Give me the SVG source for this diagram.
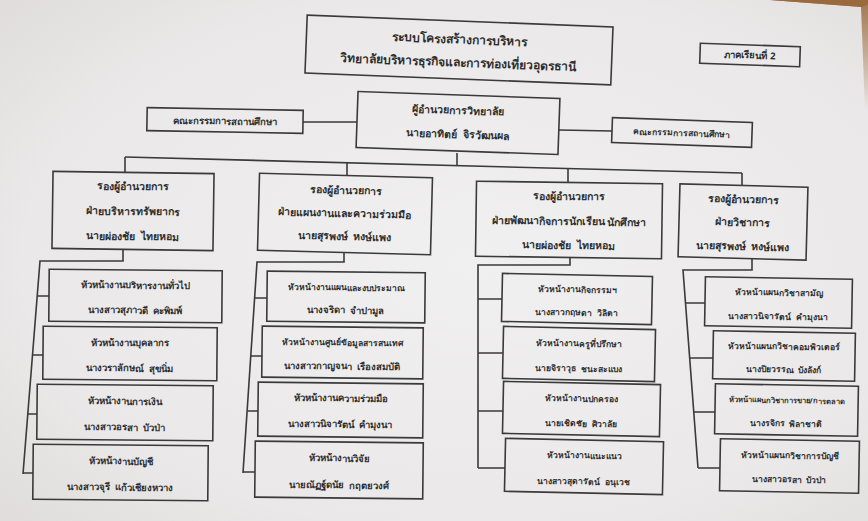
<svg xmlns="http://www.w3.org/2000/svg" width="868" height="521" viewBox="0 0 868 521">
<defs>
<radialGradient id="paper" cx="0.55" cy="0.5" r="0.75">
<stop offset="0" stop-color="#f1f0f1"/>
<stop offset="0.7" stop-color="#eae8e8"/>
<stop offset="1" stop-color="#dfdcdb"/>
</radialGradient>
<linearGradient id="edge" x1="0" y1="0" x2="0" y2="1">
<stop offset="0" stop-color="#9a6a3e" stop-opacity="0.9"/>
<stop offset="1" stop-color="#9a6a3e" stop-opacity="0"/>
</linearGradient>
<style>
.box{fill:none;stroke:#3a3a3a;stroke-width:1.6}
.ln{fill:none;stroke:#3a3a3a;stroke-width:1.6}
text{font-family:'Noto Sans','DejaVu Sans',sans-serif;font-weight:bold;fill:#2e2e2e;text-anchor:middle;dominant-baseline:central;white-space:pre}
.t12{font-size:12px}
.t11{font-size:10.5px}
.t10{font-size:9.5px}
.t9{font-size:8.5px}
</style>
</defs>
<rect width="868" height="521" fill="url(#paper)"/>
<polygon points="770,0 868,0 868,110 865,110 861,7" fill="url(#edge)"/>
<polygon points="770,0 868,0 868,4 862,7" fill="#9a6a3e"/>

<g id="connectors">
<path class="ln" d="M303,122 H357"/>
<path class="ln" d="M559,130 L612,131"/>
<path class="ln" d="M457,153 V166"/>
<path class="ln" d="M125,157 L742,173"/>
<path class="ln" d="M125,157 V172"/>
<path class="ln" d="M347,163 V175"/>
<path class="ln" d="M568,169 V182"/>
<path class="ln" d="M742,173 V186"/>
<path class="ln" d="M123,250 V261 H40 L23,474"/>
<path class="ln" d="M38,296 H49 M32,355 H43 M27,414 H37 M23,473 H33"/>
<path class="ln" d="M344,253 V262 H257 L243,473"/>
<path class="ln" d="M255,298 H267 M251,356 H262 M248,411 H258 M243,472 H255"/>
<path class="ln" d="M570,258 V265 H478 V468"/>
<path class="ln" d="M478,299 H502 M478,353 H503 M478,411 H503 M478,468 H505"/>
<path class="ln" d="M752,259 V270 H683 L698,468"/>
<path class="ln" d="M685.5,303 H705 M689.7,358 H713 M693.8,412 H715 M698,468 H720"/>
</g>

<g id="n-title" transform="rotate(2.2 459 50)">
<rect class="box" x="306" y="21" width="306" height="58"/>
<text class="t12" x="459" y="39">ระบบโครงสร้างการบริหาร</text>
<text class="t12" x="459" y="62">วิทยาลัยบริหารธุรกิจและการท่องเที่ยวอุดรธานี</text>
</g>
<g id="n-semester" transform="rotate(2 750 55)">
<rect class="box" x="700" y="45" width="100" height="20"/>
<text class="t10" x="750" y="55">ภาคเรียนที่ 2</text>
</g>
<g id="n-director" transform="rotate(2 458 123)">
<rect class="box" x="357" y="95" width="202" height="56"/>
<text class="t11" x="458" y="110">ผู้อำนวยการวิทยาลัย</text>
<text class="t11" x="458" y="134">นายอาทิตย์  จิรวัฒนผล</text>
</g>
<g id="n-board-left" transform="rotate(1 225 120.5)">
<rect class="box" x="147" y="109" width="156" height="23"/>
<text class="t10" x="225" y="121">คณะกรรมการสถานศึกษา</text>
</g>
<g id="n-board-right" transform="rotate(2 682 132.5)">
<rect class="box" x="612" y="120" width="140" height="25"/>
<text class="t9" x="682" y="132.5">คณะกรรมการสถานศึกษา</text>
</g>

<g id="n-dep1" transform="rotate(0.8 133 211)">
<rect class="box" x="52.5" y="172.5" width="161" height="77"/>
<text class="t11" x="133" y="186">รองผู้อำนวยการ</text>
<text class="t11" x="133" y="211">ฝ่ายบริหารทรัพยากร</text>
<text class="t11" x="133" y="236">นายผ่องชัย  ไทยหอม</text>
</g>
<g id="n-dep2" transform="rotate(1.5 345 214)">
<rect class="box" x="258.5" y="175.5" width="173" height="77"/>
<text class="t11" x="345" y="190">รองผู้อำนวยการ</text>
<text class="t11" x="345" y="213">ฝ่ายแผนงานและความร่วมมือ</text>
<text class="t11" x="345" y="236">นายสุรพงษ์  หงษ์แพง</text>
</g>
<g id="n-dep3" transform="rotate(0.8 569 220)">
<rect class="box" x="476" y="182.5" width="186" height="75"/>
<text class="t11" x="569" y="196">รองผู้อำนวยการ</text>
<text class="t11" x="569" y="221">ฝ่ายพัฒนากิจการนักเรียน นักศึกษา</text>
<text class="t11" x="569" y="245">นายผ่องชัย  ไทยหอม</text>
</g>
<g id="n-dep4" transform="rotate(1.5 743 222)">
<rect class="box" x="679" y="185.5" width="128" height="73"/>
<text class="t11" x="743" y="199">รองผู้อำนวยการ</text>
<text class="t11" x="743" y="222">ฝ่ายวิชาการ</text>
<text class="t11" x="743" y="246">นายสุรพงษ์  หงษ์แพง</text>
</g>

<g id="n-c1-1" transform="rotate(0.5 135.5 296)">
<rect class="box" x="49" y="270" width="173" height="52"/>
<text class="t10" x="135.5" y="285">หัวหน้างานบริหารงานทั่วไป</text>
<text class="t10" x="135.5" y="310">นางสาวสุภาวดี  คะพิมพ์</text>
</g>
<g id="n-c1-2" transform="rotate(0.5 130 353.5)">
<rect class="box" x="43" y="327" width="174" height="53"/>
<text class="t10" x="130" y="342.5">หัวหน้างานบุคลากร</text>
<text class="t10" x="130" y="368">นางวราลักษณ์  สุขนิ่ม</text>
</g>
<g id="n-c1-3" transform="rotate(0.5 125 412.5)">
<rect class="box" x="37" y="385" width="176" height="55"/>
<text class="t10" x="125" y="401">หัวหน้างานการเงิน</text>
<text class="t10" x="125" y="427">นางสาวอรสา  บัวป่า</text>
</g>
<g id="n-c1-4" transform="rotate(0.5 120.5 472.5)">
<rect class="box" x="33" y="445" width="175" height="55"/>
<text class="t10" x="120.5" y="461">หัวหน้างานบัญชี</text>
<text class="t10" x="120.5" y="487">นางสาวจุรี  แก้วเชียงหวาง</text>
</g>

<g id="n-c2-1" transform="rotate(0.6 346 297)">
<rect class="box" x="267" y="272" width="158" height="50"/>
<text class="t9" x="346" y="287">หัวหน้างานแผนและงบประมาณ</text>
<text class="t10" x="346" y="310">นางจริดา  จำปามูล</text>
</g>
<g id="n-c2-2" transform="rotate(0.6 342.5 352.5)">
<rect class="box" x="262" y="327" width="161" height="51"/>
<text class="t9" x="342.5" y="342">หัวหน้างานศูนย์ข้อมูลสารสนเทศ</text>
<text class="t10" x="342.5" y="366">นางสาวกาญจนา  เรืองสมบัติ</text>
</g>
<g id="n-c2-3" transform="rotate(0.6 340.5 410)">
<rect class="box" x="258" y="383" width="165" height="54"/>
<text class="t10" x="340.5" y="398">หัวหน้างานความร่วมมือ</text>
<text class="t10" x="340.5" y="424">นางสาวนิจารัตน์  คำมุงนา</text>
</g>
<g id="n-c2-4" transform="rotate(0.6 339 470)">
<rect class="box" x="255" y="442" width="168" height="56"/>
<text class="t10" x="339" y="458">หัวหน้างานวิจัย</text>
<text class="t10" x="339" y="485">นายณัฏฐ์ดนัย  กฤตยวงศ์</text>
</g>

<g id="n-c3-1" transform="rotate(1.2 577 299)">
<rect class="box" x="502" y="275" width="150" height="48"/>
<text class="t9" x="577" y="289">หัวหน้างานกิจกรรมฯ</text>
<text class="t9" x="577" y="312">นางสาวกฤษดา  วิลิตา</text>
</g>
<g id="n-c3-2" transform="rotate(1.2 579 354)">
<rect class="box" x="503" y="328" width="152" height="52"/>
<text class="t9" x="579" y="343">หัวหน้างานครูที่ปรึกษา</text>
<text class="t9" x="579" y="368">นายจิราวุธ  ชนะสะแบง</text>
</g>
<g id="n-c3-3" transform="rotate(1.2 581.5 409)">
<rect class="box" x="503" y="383" width="157" height="52"/>
<text class="t9" x="581.5" y="398">หัวหน้างานปกครอง</text>
<text class="t9" x="581.5" y="423">นายเชิดชัย  ศิวาลัย</text>
</g>
<g id="n-c3-4" transform="rotate(1.2 584 466.5)">
<rect class="box" x="505" y="440" width="158" height="53"/>
<text class="t9" x="584" y="455">หัวหน้างานแนะแนว</text>
<text class="t9" x="584" y="481">นางสาวสุดารัตน์  อนุเวช</text>
</g>

<g id="n-c4-1" transform="rotate(1 778.5 302.5)">
<rect class="box" x="705" y="278" width="147" height="49"/>
<text class="t9" x="778.5" y="292">หัวหน้าแผนกวิชาสามัญ</text>
<text class="t9" x="778.5" y="316">นางสาวนิจารัตน์  คำมุงนา</text>
</g>
<g id="n-c4-2" transform="rotate(1 784 356)">
<rect class="box" x="713" y="332" width="142" height="48"/>
<text class="t9" x="784" y="346">หัวหน้าแผนกวิชาคอมพิวเตอร์</text>
<text class="t9" x="784" y="369">นางปิยวรรณ  บังลังก์</text>
</g>
<g id="n-c4-3" transform="rotate(1 786.5 410)">
<rect class="box" x="715" y="385" width="143" height="50"/>
<text x="786.5" y="400" style="font-size:7.5px">หัวหน้าแผนกวิชาการขาย/การตลาด</text>
<text class="t9" x="786.5" y="423">นางรจิกร  พิลาชาติ</text>
</g>
<g id="n-c4-4" transform="rotate(1 789.5 466)">
<rect class="box" x="720" y="440" width="139" height="52"/>
<text class="t9" x="789.5" y="455">หัวหน้าแผนกวิชาการบัญชี</text>
<text class="t9" x="789.5" y="479">นางสาวอรสา  บัวป่า</text>
</g>
</svg>
